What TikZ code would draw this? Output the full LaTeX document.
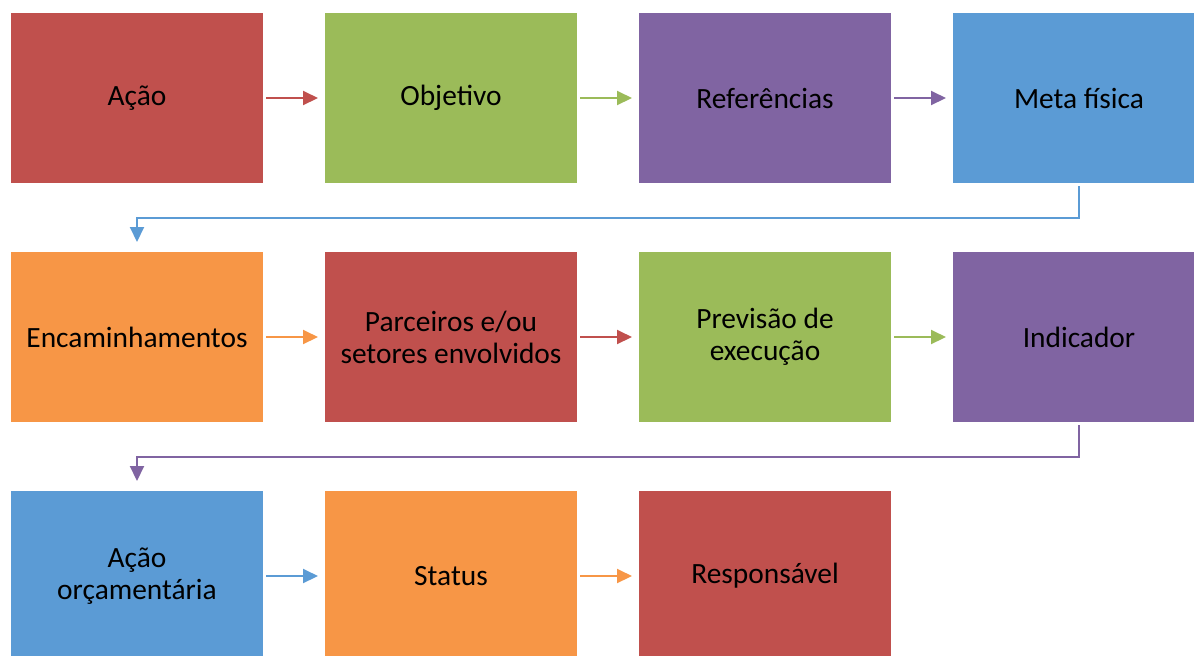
\documentclass[tikz,border=0pt]{standalone}
\usepackage{fontspec}
\setmainfont{Carlito}
\usepackage{xcolor}
\usetikzlibrary{positioning}
\usetikzlibrary{arrows.meta}
\definecolor{boxred}{HTML}{C0504D}
\definecolor{boxgreen}{HTML}{9BBB59}
\definecolor{boxpurple}{HTML}{8064A2}
\definecolor{boxblue}{HTML}{5B9BD5}
\definecolor{boxorange}{HTML}{F79646}
\tikzstyle{card}=[rectangle, minimum width=126pt, minimum height=85pt, inner sep=0pt, outer sep=0pt, align=center]
\tikzstyle{link}=[-{Triangle[length=7.5pt, width=7pt]}, line width=1pt]

\begin{document}
\begin{tikzpicture}[node distance = 34.5pt and 31pt, every node/.style={font=\fontsize{14.7}{16}\selectfont}]
    \clip (0,0) rectangle (597pt,-327.5pt);

    \node[card, fill=boxred, anchor=north west] (acao) at (5.5pt,-6.5pt) {Ação};
    \node[card, fill=boxgreen]  (objetivo)    [right = of acao]        {Objetivo};
    \node[card, fill=boxpurple] (referencias) [right = of objetivo]    {Referências};
    \node[card, fill=boxblue]   (meta)        [right = of referencias] {Meta física};

    \node[card, fill=boxorange] (encam)     [below = of acao]      {Encaminhamentos};
    \node[card, fill=boxred]    (parceiros) [right = of encam]     {Parceiros e/ou\\setores envolvidos};
    \node[card, fill=boxgreen]  (previsao)  [right = of parceiros] {Previsão de\\execução};
    \node[card, fill=boxpurple] (indicador) [right = of previsao]  {Indicador};

    \node[card, fill=boxblue]   (orcam)  [below = of encam]  {Ação\\orçamentária};
    \node[card, fill=boxorange] (status) [right = of orcam]  {Status};
    \node[card, fill=boxred]    (resp)   [right = of status] {Responsável};

    \draw[link, draw=boxred]    ([xshift=1.5pt]acao.east)        -- ([xshift=-3.5pt]objetivo.west);
    \draw[link, draw=boxgreen]  ([xshift=1.5pt]objetivo.east)    -- ([xshift=-3.5pt]referencias.west);
    \draw[link, draw=boxpurple] ([xshift=1.5pt]referencias.east) -- ([xshift=-3.5pt]meta.west);
    \draw[link, draw=boxblue]   ([yshift=-1.5pt]meta.south) -- ++(0,-16pt) -| ([yshift=5pt]encam.north);

    \draw[link, draw=boxorange] ([xshift=1.5pt]encam.east)     -- ([xshift=-3.5pt]parceiros.west);
    \draw[link, draw=boxred]    ([xshift=1.5pt]parceiros.east) -- ([xshift=-3.5pt]previsao.west);
    \draw[link, draw=boxgreen]  ([xshift=1.5pt]previsao.east)  -- ([xshift=-3.5pt]indicador.west);
    \draw[link, draw=boxpurple] ([yshift=-1.5pt]indicador.south) -- ++(0,-16pt) -| ([yshift=5pt]orcam.north);

    \draw[link, draw=boxblue]   ([xshift=1.5pt]orcam.east)  -- ([xshift=-3.5pt]status.west);
    \draw[link, draw=boxorange] ([xshift=1.5pt]status.east) -- ([xshift=-3.5pt]resp.west);
  \end{tikzpicture}
\end{document}
